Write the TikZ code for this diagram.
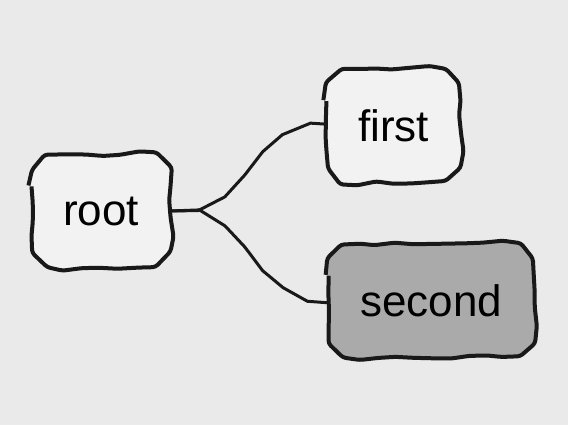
\documentclass[tikz,border=0pt]{standalone}
\usepackage{fontspec}
\setsansfont{Liberation Sans}
\usetikzlibrary{positioning,backgrounds,decorations.pathmorphing}

\definecolor{bggray}{HTML}{EAEAEA}
\definecolor{boxgray}{HTML}{F2F2F2}
\definecolor{darkbox}{HTML}{AAAAAA}

\begin{document}
\begin{tikzpicture}[node distance=2.74cm, semithick,
    box/.style={minimum height=56pt, inner xsep=15.5pt,
        font=\sffamily\fontsize{22pt}{26pt}\selectfont},
    boxline/.style={draw=black!90, line width=2pt, rounded corners=1.5pt,
        decoration={random steps, segment length=9pt, amplitude=0.8pt}},
    twig/.style={draw=black!90, line width=1.5pt,
        decorate, decoration={random steps, segment length=14pt, amplitude=1pt}}]
        \pgfmathsetseed{7}
        \useasboundingbox (0,0) rectangle (284pt,212.5pt);

        \node[box] (root) at (50.5pt,107pt) {root};
        \node[box] (first) [right=of root, yshift=1.5cm] {first};
        \node[box] (second) [right=2.78cm of root, yshift=-1.57cm] {second};

        \path[twig] (root.east) to [out=0, in=180] (first.west);
        \path[twig] (root.east) to [out=0, in=180] (second.west);

        % hand drawn boxes behind the labels
        \begin{scope}[on background layer]
            \fill[bggray] (0,0) rectangle (284pt,212.5pt);
            \foreach \n/\c in {root/boxgray, first/boxgray, second/darkbox}
                \path[boxline, fill=\c] decorate {[rounded corners=16pt]
                    (\n.north west) rectangle (\n.south east)};
        \end{scope}
    \end{tikzpicture}
\end{document}
